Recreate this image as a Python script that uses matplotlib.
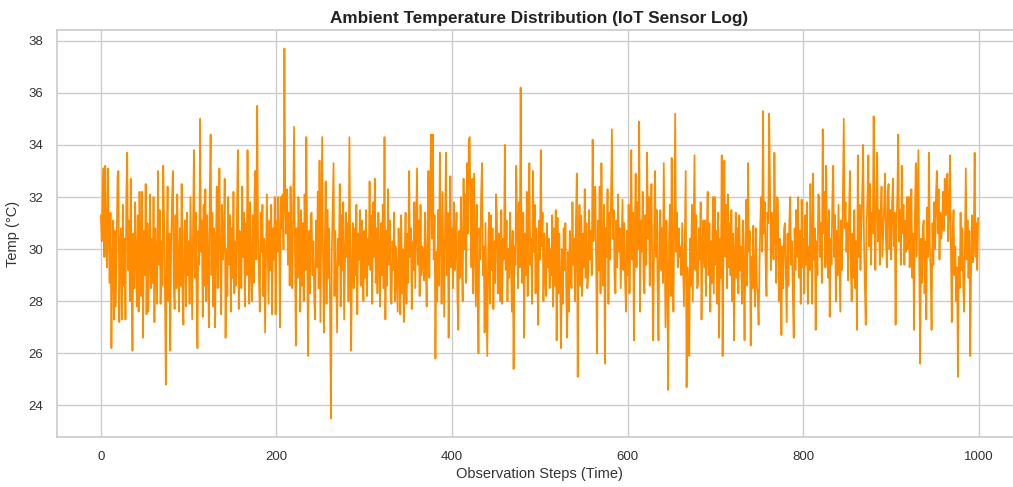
import matplotlib
matplotlib.use("Agg")
import matplotlib.pyplot as plt
import seaborn as sns

temps = [
31.3,30.3,32.0,33.1,29.7,33.2,30.1,29.3,33.1,30.6,28.7,31.4,26.2,29.4,31.1,27.3,30.7,27.8,30.3,32.8,
33.0,27.2,29.9,30.8,27.3,31.7,28.6,30.4,27.3,32.1,33.7,29.2,31.1,28.0,32.7,28.9,26.1,30.6,28.5,31.8,
29.6,27.8,31.3,27.6,32.2,30.0,28.2,32.2,26.6,30.7,29.0,32.5,27.5,31.0,27.6,29.7,32.1,28.5,30.4,28.7,
32.0,27.2,30.8,29.2,27.9,33.0,29.4,31.5,27.9,30.3,28.6,33.2,31.1,28.3,24.8,30.1,32.4,28.0,30.6,26.1,
30.0,31.8,33.0,28.7,27.7,31.3,28.5,32.1,29.3,27.6,30.8,28.6,32.5,28.2,27.1,30.6,31.1,27.8,31.4,29.0,
30.3,27.9,32.0,29.7,27.3,31.0,33.8,28.9,31.4,28.3,26.2,30.7,29.4,35.0,29.9,31.1,27.4,31.7,28.6,32.3,
28.0,31.3,29.3,27.0,32.1,34.4,29.0,31.4,27.8,30.8,27.0,30.1,32.4,28.5,30.6,33.1,29.2,27.5,31.7,29.6,
30.4,32.7,26.6,30.0,28.2,32.0,29.4,31.3,27.6,30.8,28.9,32.2,28.3,30.3,28.6,31.5,33.8,27.7,30.7,29.2,
28.5,32.4,29.7,31.4,27.8,31.0,29.0,33.8,30.3,27.9,31.8,29.3,28.0,31.3,28.7,32.1,33.0,29.6,35.5,30.6,
28.9,27.6,31.4,29.9,31.7,28.2,30.4,26.8,29.4,32.1,30.1,27.9,31.1,29.2,31.7,27.5,30.8,29.6,32.0,27.5,
31.1,29.9,32.0,30.4,27.0,32.0,30.8,32.1,30.0,37.7,31.7,30.6,32.3,29.4,31.4,28.6,32.4,30.3,28.5,31.8,
34.7,30.1,26.3,30.8,28.9,32.0,30.4,27.6,31.5,28.6,31.0,28.0,32.1,29.2,34.3,29.7,25.9,30.7,28.3,31.3,
31.4,29.0,30.3,28.0,27.3,31.1,29.3,32.2,28.5,33.4,27.2,30.6,34.3,29.6,26.8,30.1,32.6,27.9,31.5,28.9,
30.8,27.6,23.5,29.9,31.7,33.3,28.2,30.7,28.7,26.8,30.4,29.4,32.5,27.8,31.3,29.2,31.8,27.3,29.3,31.4,
29.7,31.0,28.0,34.3,30.3,26.1,29.3,31.0,28.5,30.8,29.0,31.7,27.5,30.6,29.6,31.5,28.6,31.1,29.3,28.0,
30.7,28.9,31.5,28.2,30.4,29.4,32.6,29.2,31.3,27.9,31.8,29.7,32.7,28.7,30.8,28.3,31.4,29.9,27.8,31.0,
29.0,31.7,28.5,34.3,27.3,30.7,28.6,32.3,29.4,31.1,28.2,27.9,30.3,29.2,31.4,28.0,30.1,28.9,27.6,30.8,
29.3,27.5,31.3,28.3,30.0,27.2,29.6,31.4,27.9,30.6,28.7,33.0,29.7,30.8,27.7,30.3,29.2,31.8,28.5,30.7,
33.1,29.4,31.1,28.2,31.7,29.0,30.1,29.7,28.8,31.4,29.3,27.8,30.8,33.0,28.9,32.1,34.4,30.4,34.4,29.6,
31.3,25.8,29.9,28.0,31.5,28.6,33.7,30.6,27.9,32.2,29.7,27.4,31.0,33.7,29.0,31.4,26.6,30.3,32.8,29.3,
30.8,28.5,31.8,29.2,30.1,31.4,28.2,26.9,30.7,28.9,32.0,29.7,28.0,32.7,30.0,32.1,28.7,33.3,30.6,34.2,
34.3,31.1,29.3,32.7,28.3,32.9,30.3,27.8,31.7,28.6,26.0,30.8,29.6,32.0,33.3,29.0,30.1,26.8,31.0,28.5,
25.9,29.7,31.4,27.9,31.3,29.2,30.8,27.7,30.3,28.7,32.1,31.3,28.3,30.6,29.4,28.0,31.5,27.9,30.4,29.6,
34.0,29.2,31.1,28.0,30.0,28.9,31.4,29.7,27.6,30.7,25.4,30.1,29.4,33.2,31.0,28.5,31.8,29.3,36.2,30.3,
28.7,31.4,26.6,30.6,29.0,32.2,28.2,31.3,33.3,29.4,30.4,27.9,33.0,29.9,31.7,28.3,30.8,29.2,27.1,31.1,
29.6,33.8,30.1,31.4,28.0,30.6,28.9,28.2,31.0,29.3,30.4,28.5,30.0,29.0,31.3,27.8,30.8,28.6,31.5,26.5,
31.2,28.3,30.6,28.7,26.2,30.0,27.9,30.8,29.2,31.0,28.2,26.6,29.9,27.6,30.7,28.9,28.5,31.8,29.4,30.4,
28.0,31.1,32.9,25.1,29.7,31.7,28.6,31.3,28.2,30.6,29.3,32.3,28.9,31.0,28.5,29.0,31.5,29.6,30.7,29.0,
34.2,30.3,32.1,32.4,29.4,26.0,31.1,29.2,32.4,28.3,33.3,30.1,28.6,31.7,25.6,30.8,29.7,32.3,27.9,31.4,
29.6,32.0,34.6,30.4,31.5,28.9,28.3,31.1,29.3,32.1,29.9,30.8,28.5,30.3,31.9,29.2,31.0,28.7,27.6,30.7,
29.0,31.7,28.3,30.6,33.8,29.6,31.4,26.5,30.8,32.9,29.3,31.8,30.0,34.9,27.6,31.1,29.9,32.2,28.9,28.3,
31.3,29.4,33.7,30.4,32.0,28.6,31.0,32.5,29.0,26.5,30.3,33.0,29.7,31.5,28.5,26.5,30.6,31.5,29.2,30.8,
28.7,33.3,30.0,27.0,31.1,29.2,24.6,30.4,31.7,28.2,33.5,30.1,27.6,31.3,35.2,29.9,31.4,29.3,30.8,29.7,
30.1,29.0,31.0,29.4,27.8,30.3,33.0,24.7,29.3,28.3,25.9,30.4,28.6,31.7,28.0,30.7,33.6,29.2,31.3,28.5,
28.6,30.8,29.6,31.8,27.3,30.1,31.1,29.3,31.1,28.2,30.6,32.2,29.0,31.0,27.6,30.3,28.7,32.0,28.3,32.0,
29.4,30.7,27.9,31.4,26.6,30.4,28.9,33.6,25.9,30.0,33.4,29.7,31.7,28.5,32.1,29.3,31.0,29.0,31.5,28.0,
30.6,26.5,29.6,31.4,28.9,30.8,28.3,31.3,29.2,30.1,27.9,31.1,29.4,26.5,30.4,31.9,28.6,33.3,29.9,30.7,
26.3,29.7,28.5,30.9,29.0,27.8,30.8,28.7,28.2,27.1,29.3,31.1,32.0,29.9,35.3,30.6,31.8,29.4,28.2,31.4,
31.0,35.2,32.5,29.2,31.4,30.3,29.6,33.7,30.7,28.7,32.0,31.9,28.0,30.4,29.3,26.7,30.1,28.5,30.8,31.0,
29.0,27.2,30.6,28.6,31.1,32.0,29.4,30.3,28.2,26.6,30.8,29.2,31.5,29.7,32.0,28.9,30.7,27.9,31.9,29.3,
30.4,28.3,31.3,29.4,31.8,27.9,30.1,29.2,32.5,30.0,27.9,32.9,29.6,30.8,26.9,30.3,29.0,32.1,32.0,29.7,
31.0,28.7,34.6,30.6,32.2,29.3,33.2,30.0,28.9,31.5,27.4,30.4,29.4,32.0,33.2,29.7,31.3,28.0,30.7,29.0,
31.7,29.6,27.6,31.1,29.2,32.1,35.0,30.8,31.8,29.9,31.0,28.8,31.4,33.0,29.3,28.0,30.6,28.9,31.5,28.5,
30.3,26.9,33.6,29.7,31.7,29.2,30.8,32.1,34.0,30.4,28.6,27.1,31.0,32.0,33.6,30.1,32.5,29.4,31.4,30.6,
35.1,31.1,29.2,32.1,33.7,30.3,31.5,29.4,31.3,32.4,29.7,30.7,31.7,32.9,30.4,29.3,32.0,32.5,30.0,31.5,
29.6,31.8,32.7,30.1,31.4,27.1,30.8,32.1,34.4,30.3,31.5,29.4,33.2,30.6,31.7,29.4,31.1,29.9,32.0,30.0,
32.0,29.3,31.0,32.3,28.9,30.6,26.9,31.3,33.3,29.7,31.7,33.8,29.2,25.6,30.4,28.7,30.8,31.1,28.3,30.3,
27.3,31.6,29.7,33.7,30.1,29.0,26.9,31.0,29.4,31.8,30.0,32.1,33.0,30.6,32.3,29.6,31.4,30.4,30.8,32.2,
30.7,32.7,31.3,32.0,32.9,30.3,31.5,33.6,30.0,27.2,30.6,31.5,29.0,30.1,28.0,29.3,25.1,29.7,28.5,31.4,
29.2,30.8,28.6,27.6,30.4,33.1,29.6,31.1,28.9,30.7,25.9,29.4,31.3,29.5,30.3,33.7,29.7,31.0,29.2,31.2,
]
steps = list(range(len(temps)))

title = "Ambient Temperature Distribution (IoT Sensor Log)"
xlabel = "Observation Steps (Time)"
ylabel = "Temp (°C)"

sns.set_theme(style="whitegrid")
plt.rcParams['font.family'] = ['Liberation Sans', 'DejaVu Sans']

fig = plt.figure(figsize=(10.13, 4.87), dpi=100)
ax = fig.add_axes([57/1013, (487-437)/487, (1022-57)/1013, (437-30)/487])
ax.plot(steps, temps, color="#FF8C00", linewidth=1.25)
ax.set_title(title, fontsize=12.3, fontweight="bold", color="#222222", pad=5)
ax.set_xlabel(xlabel, fontsize=10.5, color="#333333", labelpad=3)
ax.set_ylabel(ylabel, fontsize=10.5, color="#333333", labelpad=6)
ax.tick_params(axis='both', labelsize=9.5, colors="#333333", pad=4)
ax.set_xticks([0, 200, 400, 600, 800, 1000])
ax.set_yticks([24, 26, 28, 30, 32, 34, 36, 38])
for s in ax.spines.values():
    s.set_color("#cccccc")

fig.savefig("out.png", dpi=100)
